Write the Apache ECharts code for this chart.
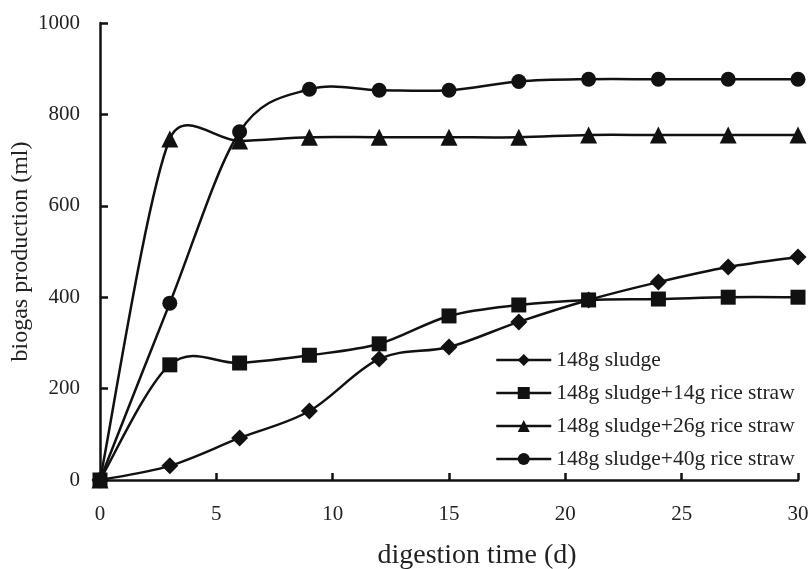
<!DOCTYPE html>
<html>
<head>
<meta charset="utf-8">
<script src="https://cdn.jsdelivr.net/npm/echarts@6/dist/echarts.min.js"></script>
<style>
    html, body { margin: 0; padding: 0; background: #fff; }
    #chart { width: 812px; height: 569px; }
</style>
</head>
<body>
<div id="chart"></div>
<script>
var days = [0, 3, 6, 9, 12, 15, 18, 21, 24, 27, 30];
var sludge = [0, 31, 92, 151, 265, 291, 346, 394, 433, 466, 488];
var straw14 = [0, 252, 256, 273, 298, 359, 383, 394, 396, 400, 400];
var straw26 = [0, 746, 742, 750, 750, 750, 750, 755, 755, 755, 755];
var straw40 = [0, 387, 762, 855, 853, 853, 872, 877, 877, 877, 877];
var seriesNames = ['148g sludge', '148g sludge+14g rice straw', '148g sludge+26g rice straw', '148g sludge+40g rice straw'];

var font = 'Liberation Serif';

function pairs(vals) {
    var out = [];
    for (var i = 0; i < days.length; i++) {
        out.push([days[i], vals[i]]);
    }
    return out;
}

// markers only, the curve itself is drawn by the custom series below
function markSeries(name, vals, symbol, size) {
    return {
        name: name,
        type: 'line',
        z: 3,
        symbol: symbol,
        symbolSize: size,
        showAllSymbol: true,
        lineStyle: { color: '#111', width: 2.5, opacity: 0 },
        itemStyle: { color: '#111' },
        data: pairs(vals)
    };
}

function dist(a, b) {
    return Math.sqrt((a[0] - b[0]) * (a[0] - b[0]) + (a[1] - b[1]) * (a[1] - b[1]));
}

// spreadsheet-style smoothed curve: tangent (next - prev) / 6,
// arm capped at half of the segment length
function curveSeries(vals) {
    return {
        type: 'custom',
        z: 2,
        silent: true,
        renderItem: function (params, api) {
            var i = params.dataIndex;
            var n = days.length;
            if (i >= n - 1) {
                return;
            }
            var pt = function (j) {
                j = Math.max(0, Math.min(n - 1, j));
                return api.coord([days[j], vals[j]]);
            };
            var p0 = pt(i - 1), p1 = pt(i), p2 = pt(i + 1), p3 = pt(i + 2);
            var d12 = dist(p1, p2);
            var d02 = dist(p0, p2);
            var d13 = dist(p1, p3);
            var f = d02 > 0 ? Math.min(1 / 6, d12 / (2 * d02)) : 0;
            var g = d13 > 0 ? Math.min(1 / 6, d12 / (2 * d13)) : 0;
            return {
                type: 'bezierCurve',
                shape: {
                    x1: p1[0], y1: p1[1],
                    x2: p2[0], y2: p2[1],
                    cpx1: p1[0] + (p2[0] - p0[0]) * f,
                    cpy1: p1[1] + (p2[1] - p0[1]) * f,
                    cpx2: p2[0] - (p3[0] - p1[0]) * g,
                    cpy2: p2[1] - (p3[1] - p1[1]) * g
                },
                style: { stroke: '#111', lineWidth: 2.5, fill: null }
            };
        },
        encode: { x: 0, y: 1 },
        data: pairs(vals)
    };
}

var chart = echarts.init(document.getElementById('chart'));
var option = {
    backgroundColor: '#fff',
    animation: false,
    grid: { left: 100, right: 14, top: 23, bottom: 89, outerBoundsMode: 'none' },
    legend: {
        orient: 'vertical',
        left: 490,
        top: 344,
        itemWidth: 55,
        itemHeight: 15,
        itemGap: 11,
        lineStyle: { color: '#111', width: 2.5, opacity: 1 },
        textStyle: { fontFamily: font, fontSize: 21.5, color: '#222' },
        data: seriesNames
    },
    xAxis: {
        type: 'value',
        min: 0,
        max: 30,
        interval: 5,
        name: 'digestion time (d)',
        nameLocation: 'middle',
        nameGap: 62,
        nameTextStyle: { fontFamily: font, fontSize: 28, color: '#222', padding: [0, 0, 0, 56] },
        axisLine: { lineStyle: { color: '#111', width: 2.5 } },
        axisTick: { inside: true, length: 7, lineStyle: { color: '#111', width: 2.5 } },
        axisLabel: { fontFamily: font, fontSize: 21, color: '#222', margin: 24 },
        splitLine: { show: false }
    },
    yAxis: {
        type: 'value',
        min: 0,
        max: 1000,
        interval: 200,
        name: 'biogas production (ml)',
        nameLocation: 'middle',
        nameGap: 67,
        nameMoveOverlap: false,
        nameTextStyle: { fontFamily: font, fontSize: 24, color: '#222' },
        axisLine: { show: true, lineStyle: { color: '#111', width: 2.5 } },
        axisTick: { show: true, inside: true, length: 8, lineStyle: { color: '#111', width: 2.5 } },
        axisLabel: { fontFamily: font, fontSize: 21, color: '#222', margin: 20, formatter: function (v) { return String(v); } },
        splitLine: { show: false }
    },
    series: [
        curveSeries(sludge),
        curveSeries(straw14),
        curveSeries(straw26),
        curveSeries(straw40),
        markSeries(seriesNames[0], sludge, 'diamond', 17),
        markSeries(seriesNames[1], straw14, 'rect', 15),
        markSeries(seriesNames[2], straw26, 'triangle', 17),
        markSeries(seriesNames[3], straw40, 'circle', 15)
    ]
};
chart.setOption(option);
window.addEventListener('resize', function () {
    chart.resize();
});
</script>
</body>
</html>
